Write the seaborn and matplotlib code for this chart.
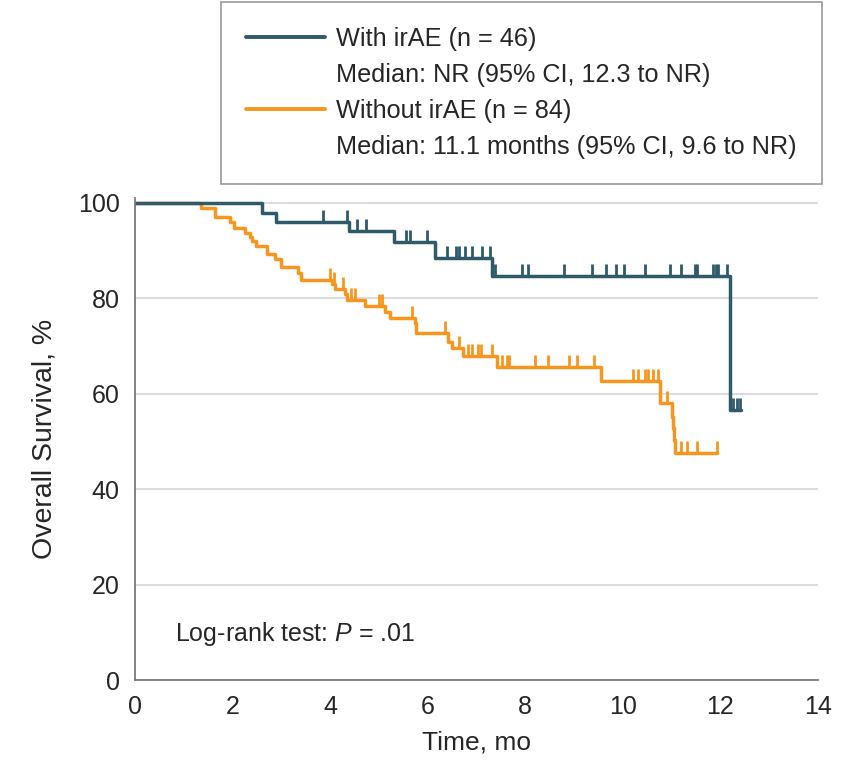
import numpy as np
import pandas as pd
import matplotlib
matplotlib.use("Agg")
import matplotlib.pyplot as plt
from matplotlib.lines import Line2D
from matplotlib.path import Path
from matplotlib.markers import MarkerStyle
import seaborn as sns

# ---------------- data ----------------
groups = ["With irAE", "Without irAE"]
legend_titles = ["With irAE (n = 46)", "Without irAE (n = 84)"]
legend_medians = ["Median: NR (95% CI, 12.3 to NR)",
                  "Median: 11.1 months (95% CI, 9.6 to NR)"]

# With irAE: event times (mo) and survival (%) after each step
with_times = [0, 2.60, 2.88, 4.39, 5.31, 6.15, 7.31, 12.20]
with_surv = [100, 97.8, 95.9, 94.0, 91.7, 88.4, 84.6, 56.5]
with_end = 12.42
with_censor = [3.86, 4.34, 4.56, 4.73, 5.55, 5.64, 5.98, 6.39, 6.57, 6.64, 6.76,
               6.90, 7.11, 7.28, 7.38, 7.93, 8.06, 8.80, 9.36, 9.65, 9.86, 10.02,
               10.45, 10.97, 11.20, 11.48, 11.52, 11.85, 11.90, 11.96, 12.13,
               12.26, 12.33, 12.40]

# Without irAE
without_times = [0, 1.35, 1.64, 1.95, 2.03, 2.25, 2.36, 2.39, 2.49, 2.70, 2.87,
                 3.00, 3.35, 3.40, 4.03, 4.10, 4.30, 4.34, 4.71, 5.12, 5.23, 5.74,
                 5.77, 6.42, 6.49, 6.73, 7.41, 9.56, 10.76, 11.00, 11.03, 11.05,
                 11.07]
without_surv = [100, 98.8, 97.0, 96.0, 94.7, 93.6, 92.9, 91.9, 91.0, 89.3, 88.3,
                86.6, 85.2, 83.9, 83.0, 82.0, 80.9, 79.7, 78.3, 77.2, 75.8, 74.8,
                72.7, 70.9, 69.5, 67.8, 65.6, 62.7, 58.1, 55.2, 52.8, 50.2, 47.6]
without_end = 11.93
without_censor = [4.00, 4.08, 4.27, 4.43, 4.51, 5.00, 5.07, 5.67, 6.35, 6.64,
                  6.82, 6.90, 7.03, 7.10, 7.32, 7.52, 7.62, 7.66, 8.20, 8.47,
                  8.90, 9.05, 9.41, 10.21, 10.32, 10.45, 10.52, 10.62, 10.73,
                  10.91, 11.20, 11.31, 11.51, 11.93]

colors = ["#2e5a69", "#f7961e"]

x_ticks = list(range(0, 15, 2))
y_ticks = list(range(0, 101, 20))

# ---------------- style ----------------
sns.set_style("white")
plt.rcParams["font.family"] = ["Liberation Sans", "DejaVu Sans"]
plt.rcParams["mathtext.fontset"] = "custom"
plt.rcParams["mathtext.rm"] = "Liberation Sans"
plt.rcParams["mathtext.it"] = "Liberation Sans:italic"

text_color = "#262626"
spine_color = "#7a7a7a"

fig = plt.figure(figsize=(8.46, 7.71), dpi=100)
ax = fig.add_axes([135 / 846, 91 / 771, 683 / 846, 482 / 771])


def step_frame(times, surv, end, name):
    t = list(times) + [end]
    s = list(surv) + [surv[-1]]
    return pd.DataFrame({"time": t, "surv": s, "group": name})


def censor_frame(times, surv, ctimes, name):
    idx = np.searchsorted(np.array(times), np.array(ctimes), side="right") - 1
    return pd.DataFrame({"time": ctimes, "surv": np.array(surv)[idx], "group": name})


steps = pd.concat([
    step_frame(with_times, with_surv, with_end, groups[0]),
    step_frame(without_times, without_surv, without_end, groups[1]),
])
cens = [censor_frame(with_times, with_surv, with_censor, groups[0]),
        censor_frame(without_times, without_surv, without_censor, groups[1])]

# gridlines
ax.set_axisbelow(True)
ax.yaxis.grid(True, color="#dcdcdc", linewidth=1.5)
ax.xaxis.grid(False)

# draw orange first so teal sits above where overlapping at 100%
for name, col, cdf in [(groups[1], colors[1], cens[1]), (groups[0], colors[0], cens[0])]:
    sub = steps[steps["group"] == name]
    sns.lineplot(data=sub, x="time", y="surv", drawstyle="steps-post",
                 estimator=None, sort=False, color=col, linewidth=2.5, ax=ax,
                 legend=False)
    tick_marker = MarkerStyle(Path([(0, 0), (0, 1)]))
    sns.scatterplot(data=cdf, x="time", y="surv", marker=tick_marker, s=290,
                    color=col, edgecolor=col, linewidth=2.0, ax=ax, legend=False,
                    zorder=3)

ax.set_xlim(0, 14)
ax.set_ylim(0, 101)
ax.set_xticks(x_ticks)
ax.set_yticks(y_ticks)
ax.tick_params(axis="both", direction="out", length=7, width=1.2,
               color=spine_color, labelsize=18, labelcolor=text_color, pad=4)

for side in ["top", "right"]:
    ax.spines[side].set_visible(False)
for side in ["left", "bottom"]:
    ax.spines[side].set_color(spine_color)
    ax.spines[side].set_linewidth(1.3)

ax.set_xlabel("Time, mo", fontsize=19, color=text_color, labelpad=8)
ax.set_ylabel("Overall Survival, %", fontsize=20.5, color=text_color, labelpad=15)

ax.text(0.82, 9.6, "Log-rank test: $\\mathit{P}$ = .01", fontsize=18,
        color=text_color, va="center", ha="left")

# legend
handles = [Line2D([], [], color=colors[0], linewidth=2.8),
           Line2D([], [], color="none"),
           Line2D([], [], color=colors[1], linewidth=2.8),
           Line2D([], [], color="none")]
labels = [legend_titles[0], legend_medians[0], legend_titles[1], legend_medians[1]]
leg = fig.legend(handles, labels, loc="upper right",
                 bbox_to_anchor=(822 / 846, 1 - 2 / 771),
                 bbox_transform=fig.transFigure, frameon=True, fancybox=False,
                 fontsize=18.2, handlelength=3.1, handletextpad=0.45,
                 labelspacing=0.47, borderpad=1.0, borderaxespad=0)
leg.get_frame().set_edgecolor("#808080")
leg.get_frame().set_linewidth(1.2)
for t in leg.get_texts():
    t.set_color(text_color)

fig.savefig("out.png", dpi=100)
